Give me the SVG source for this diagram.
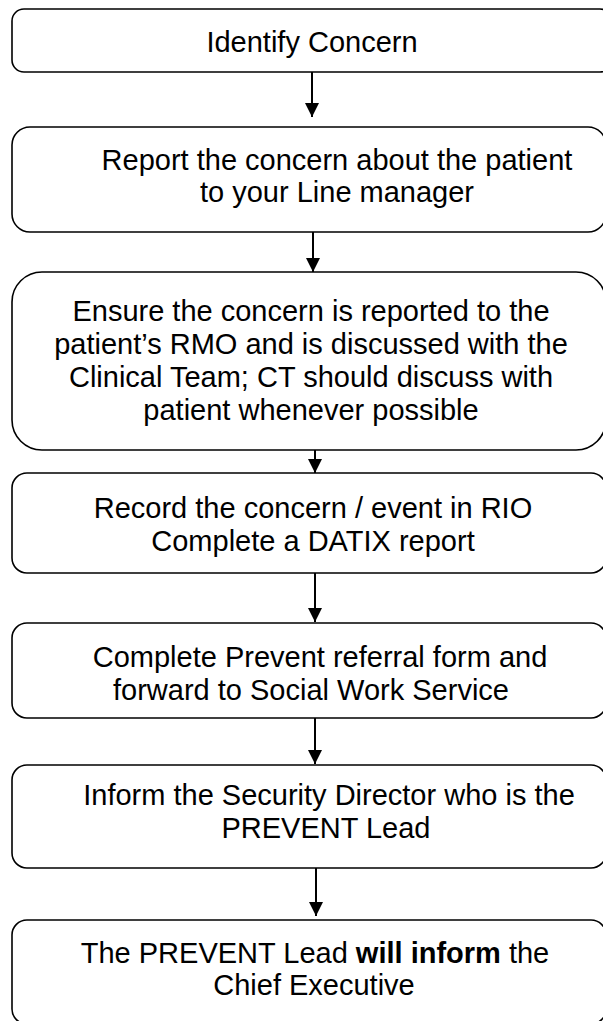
<svg xmlns="http://www.w3.org/2000/svg" width="603" height="1021" viewBox="0 0 603 1021">
  <style>
    .box { fill: #ffffff; stroke: #000000; stroke-width: 1.6; }
    .lbl { font-family: "Liberation Sans", Arial, sans-serif; font-size: 29px; fill: #000000; text-anchor: middle; }
    .conn { stroke: #000000; stroke-width: 2; fill: none; marker-end: url(#arrow); }
    .b { font-weight: bold; }
  </style>
  <defs>
    <marker id="arrow" markerUnits="userSpaceOnUse" markerWidth="14" markerHeight="15" refX="14" refY="7" orient="auto">
      <path d="M0,0 L14,7 L0,14 z" fill="#000000"/>
    </marker>
  </defs>
  <rect width="603" height="1021" fill="#ffffff"/>

  <g id="connectors">
    <line class="conn" x1="312" y1="66" x2="312" y2="117"/>
    <line class="conn" x1="313" y1="232" x2="313" y2="272"/>
    <line class="conn" x1="315" y1="450" x2="315" y2="473"/>
    <line class="conn" x1="315" y1="573" x2="315" y2="622"/>
    <line class="conn" x1="315" y1="718" x2="315" y2="764"/>
    <line class="conn" x1="316" y1="858" x2="316" y2="916"/>
  </g>

  <g id="node1">
    <rect class="box" x="12" y="9" width="600" height="63" rx="12" ry="12"/>
    <text class="lbl" x="312" y="52">Identify Concern</text>
  </g>
  <g id="node2">
    <rect class="box" x="12" y="127" width="594" height="105" rx="18" ry="18"/>
    <text class="lbl" x="337" y="170">Report the concern about the patient</text>
    <text class="lbl" x="337" y="202">to your Line manager</text>
  </g>
  <g id="node3">
    <rect class="box" x="12" y="272" width="594" height="178" rx="30" ry="30"/>
    <text class="lbl" x="311" y="321">Ensure the concern is reported to the</text>
    <text class="lbl" x="311" y="354">patient’s RMO and is discussed with the</text>
    <text class="lbl" x="311" y="387">Clinical Team; CT should discuss with</text>
    <text class="lbl" x="311" y="420">patient whenever possible</text>
  </g>
  <g id="node4">
    <rect class="box" x="12" y="473" width="594" height="100" rx="15" ry="15"/>
    <text class="lbl" x="313" y="518">Record the concern / event in RIO</text>
    <text class="lbl" x="313" y="551">Complete a DATIX report</text>
  </g>
  <g id="node5">
    <rect class="box" x="12" y="623" width="594" height="95" rx="15" ry="15"/>
    <text class="lbl" x="320" y="667">Complete Prevent referral form and</text>
    <text class="lbl" x="311" y="700">forward to Social Work Service</text>
  </g>
  <g id="node6">
    <rect class="box" x="12" y="765" width="594" height="103" rx="15" ry="15"/>
    <text class="lbl" x="329" y="805">Inform the Security Director who is the</text>
    <text class="lbl" x="326" y="838">PREVENT Lead</text>
  </g>
  <g id="node7">
    <rect class="box" x="12" y="920" width="594" height="104" rx="15" ry="15"/>
    <text class="lbl" x="315" y="963">The PREVENT Lead <tspan class="b">will inform</tspan> the</text>
    <text class="lbl" x="314" y="995">Chief Executive</text>
  </g>
</svg>
